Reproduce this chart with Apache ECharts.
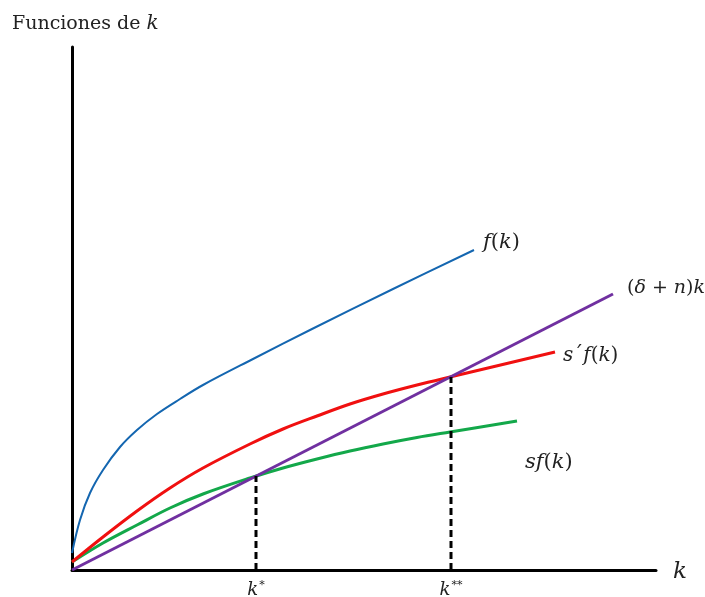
<!DOCTYPE html>
<html>
<head>
<meta charset="utf-8">
<script src="https://cdn.jsdelivr.net/npm/echarts@6/dist/echarts.min.js"></script>
<style>
html,body{margin:0;padding:0;background:#fff;}
#chart{width:705px;height:597px;}
</style>
</head>
<body>
<div id="chart"></div>
<script>
// ---- data (x = k, y = function value) ----
var fK   = [[0,17],[8,50],[18,77],[31,100],[48,123],[65,140],[85,156],[108,171],[131,185],[181,211],[240,241],[321,281],[402,320]];
var sfK  = [[0,8],[31,27],[65,45],[98,62],[131,76],[178,92],[211,102],[245,111],[278,119],[311,126],[345,132.5],[378,138],[445,149]];
var s2fK = [[0,8],[31,33],[65,59],[98,82],[131,102],[178,126],[211,141],[245,154],[278,166],[311,176],[345,185],[378,193],[483,218]];
var depK = [[0,0],[541,276]];
var steadyK = [184, 379];          // k*, k**
var steadyY = [94, 193];           // heights of the intersections
var tickNames = ['k*', 'k**'];
var xMax = 584, yMax = 523;

var serif = '"DejaVu Serif", "Liberation Serif", serif';
var chart = echarts.init(document.getElementById('chart'));

function dashed(i){
  return {
    type:'line', data:[[steadyK[i],0],[steadyK[i],steadyY[i]]], symbol:'none', silent:true,
    lineStyle:{color:'#000', width:3, type:[7,4]}, z:5
  };
}
function rt(size){
  return {n:{fontFamily:serif, fontSize:size, fill:'#222'}, i:{fontFamily:serif, fontSize:size, fontStyle:'italic', fill:'#222'}};
}

chart.setOption({
  animation:false,
  grid:{left:72, right:49, top:47, bottom:27, containLabel:false, outerBoundsMode:'none'},
  xAxis:{
    type:'value', min:0, max:xMax,
    splitLine:{show:false}, axisTick:{show:false},
    axisLine:{show:true, onZero:false, lineStyle:{color:'#000', width:3}},
    axisLabel:{
      customValues: steadyK,
      margin:10,
      formatter:function(v){
        var i = steadyK.indexOf(v);
        var n = tickNames[i];
        return '{k|k}{s|' + n.slice(1) + '}';
      },
      rich:{
        k:{fontFamily:serif, fontStyle:'italic', fontSize:18, color:'#222'},
        s:{fontFamily:serif, fontSize:11, color:'#222', verticalAlign:'top', padding:[0,0,10,1]}
      }
    }
  },
  yAxis:{
    type:'value', min:0, max:yMax,
    splitLine:{show:false}, axisTick:{show:false}, axisLabel:{show:false},
    axisLine:{show:true, onZero:false, lineStyle:{color:'#000', width:3}}
  },
  series:[
    {type:'line', data:fK, smooth:0.35, symbol:'none', lineStyle:{color:'#1466b0', width:2}},
    {type:'line', data:sfK, smooth:0.35, symbol:'none', lineStyle:{color:'#13a84a', width:3}},
    {type:'line', data:s2fK, smooth:0.35, symbol:'none', lineStyle:{color:'#f01010', width:3}},
    {type:'line', data:depK, symbol:'none', lineStyle:{color:'#7030a0', width:3}},
    dashed(0), dashed(1)
  ],
  graphic:[
    {type:'text', left:12, top:14, style:{
      text:'{n|Funciones de }{i|k}',
      rich:{n:{fontFamily:serif, fontSize:19, fill:'#222'}, i:{fontFamily:serif, fontSize:20, fontStyle:'italic', fill:'#222'}}
    }},
    {type:'text', left:673, top:561, style:{
      text:'k', font:'italic 23px ' + serif, fill:'#222'
    }},
    {type:'text', left:483, top:232, style:{
      text:'{i|f}{n|(}{i|k}{n|)}', rich:rt(21)
    }},
    {type:'text', left:627, top:279, style:{
      text:'{n|(}{i|δ}{n| + }{i|n}{n|)}{i|k}', rich:rt(19)
    }},
    {type:'text', left:563, top:346, style:{
      text:'{i|s}{n|´}{i|f}{n|(}{i|k}{n|)}', rich:rt(20)
    }},
    {type:'text', left:525, top:452, style:{
      text:'{i|sf}{n|(}{i|k}{n|)}', rich:rt(21)
    }}
  ]
});
</script>
</body>
</html>
